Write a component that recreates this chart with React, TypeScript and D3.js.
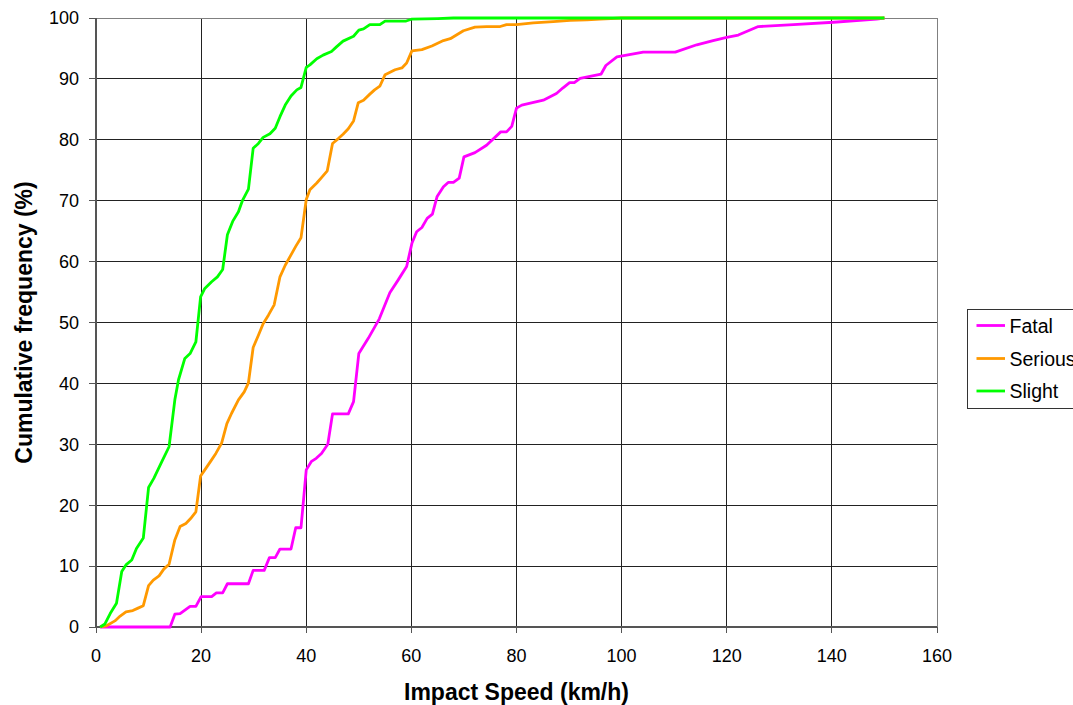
import React from "react";
import * as d3 from "d3";

type Pt = [number, number];

const xTicks = [0, 20, 40, 60, 80, 100, 120, 140, 160];
const yTicks = [0, 10, 20, 30, 40, 50, 60, 70, 80, 90, 100];

const fatal: Pt[] = [
  [0.8, 0], [14.1, 0], [15, 2.1], [16, 2.2], [17.9, 3.4], [19, 3.4], [20, 5], [22, 5], [22.9, 5.6], [24.1, 5.6],
  [25, 7.1], [29, 7.1], [29.9, 9.3], [32, 9.3], [33, 11.4], [34.1, 11.4], [35, 12.8], [37.1, 12.8], [38, 16.3],
  [39, 16.3], [40, 25.8], [41, 27.2], [41.9, 27.7], [42.9, 28.5], [44.1, 30], [45, 35], [48, 35], [49, 37],
  [50, 44.9], [51.8, 47.4], [53.9, 50.6], [55.9, 54.9], [57.5, 57], [59.1, 59.2], [60.1, 63], [61, 64.9],
  [62, 65.6], [63, 67.1], [64, 67.8], [64.9, 70.7], [66.1, 72.3], [67, 73], [68, 73], [69.1, 73.7], [70, 77.2],
  [72.1, 77.9], [74.3, 79.1], [77, 81.3], [78.1, 81.3], [79.1, 82.2], [80, 85.2], [81, 85.7], [85.1, 86.5],
  [87.6, 87.6], [88.8, 88.5], [90.1, 89.4], [91, 89.4], [92.1, 90.1], [96.1, 90.8], [97, 92.2], [99.1, 93.6],
  [104.1, 94.4], [110.2, 94.4], [114.3, 95.6], [117.4, 96.3], [120, 96.8], [122.2, 97.2], [126, 98.6],
  [132.7, 98.9], [140.3, 99.3], [148.5, 99.8], [150, 100],
];

const serious: Pt[] = [
  [0.8, 0], [2, 0.2], [3.6, 1], [4.6, 1.8], [5.7, 2.5], [7, 2.7], [8, 3.1], [9, 3.5], [10, 6.8], [10.9, 7.7],
  [12, 8.4], [12.9, 9.5], [13.9, 10.3], [15, 14.3], [16, 16.5], [17.1, 17], [18, 17.8], [19, 18.9], [19.9, 24.8],
  [20.7, 25.8], [21.8, 27.2], [22.8, 28.5], [23.9, 30.2], [24.9, 33.4], [25.8, 35.1], [27.1, 37.3], [28.2, 38.6],
  [29, 40.1], [29.9, 45.9], [30.9, 47.9], [31.8, 49.8], [32.8, 51.2], [33.9, 52.9], [35, 57.5], [36, 59.4],
  [37.1, 61.1], [38, 62.5], [39, 63.9], [40, 70.2], [40.7, 71.8], [42, 72.9], [42.9, 73.8], [44, 74.9],
  [45, 79.4], [46.1, 80.2], [47, 80.9], [48, 81.8], [49, 83.1], [49.9, 86.1], [50.9, 86.5], [52.1, 87.5],
  [53, 88.2], [54, 88.8], [55, 90.7], [56.9, 91.5], [58.2, 91.8], [59.1, 92.6], [60.1, 94.6], [62, 94.8],
  [63.9, 95.4], [66.1, 96.3], [67.4, 96.6], [69.9, 97.9], [72.1, 98.5], [74.3, 98.6], [76.9, 98.6],
  [78.1, 98.9], [80, 98.9], [83.2, 99.2], [87, 99.4], [90.2, 99.6], [93.4, 99.7], [95.9, 99.8], [100, 100],
  [150, 100],
];

const slight: Pt[] = [
  [0.8, 0], [1.7, 0.5], [2.7, 2.2], [3.9, 3.9], [4.9, 9.1], [5.7, 10.2], [6.8, 11], [7.7, 12.9], [9, 14.6],
  [10, 22.9], [11, 24.4], [12.5, 27.1], [13.9, 29.6], [15, 37.3], [15.7, 40.6], [16.9, 44.1], [17.9, 44.9],
  [19, 46.8], [19.9, 54.2], [20.7, 55.6], [22, 56.7], [23.1, 57.5], [24.1, 58.7], [25, 64.4], [26, 66.6],
  [27.1, 68.2], [27.9, 70.1], [29, 71.9], [29.9, 78.6], [30.9, 79.4], [31.8, 80.4], [33.1, 81], [34.1, 81.9],
  [35, 83.8], [36, 85.7], [37.1, 87.2], [38.2, 88.2], [39, 88.6], [40, 91.9], [40.7, 92.3], [42, 93.3],
  [43.2, 93.9], [44.8, 94.5], [45.8, 95.3], [47, 96.2], [49, 97], [50, 98], [50.9, 98.2], [52.1, 98.9],
  [54, 98.9], [55, 99.5], [59, 99.5], [60, 99.8], [65, 99.9], [68, 100], [150, 100],
];

const seriesNames = ["Fatal", "Serious", "Slight"];
const seriesColors = ["#FF00FF", "#FF9900", "#00FF00"];
const seriesData = [fatal, serious, slight];

const FONT = "'Liberation Sans', Arial, Helvetica, sans-serif";

export default function App() {
  const W = 1073;
  const H = 705;
  const left = 96;
  const right = 937;
  const top = 18;
  const bottom = 627;

  const x = d3.scaleLinear().domain([0, 160]).range([left, right]);
  const y = d3.scaleLinear().domain([0, 100]).range([bottom, top]);
  const line = d3
    .line<Pt>()
    .x((d) => x(d[0]))
    .y((d) => y(d[1]));

  const legendX = 967.5;
  const legendY = 309.5;
  const rowY = [325.5, 358.5, 391];

  return (
    <svg
      width={W}
      height={H}
      style={{ position: "absolute", left: 0, top: 0, background: "#fff" }}
      fontFamily={FONT}
    >
      <rect x={0} y={0} width={W} height={H} fill="#fff" />
      {/* gridlines */}
      <g shapeRendering="crispEdges">
        {yTicks.slice(1, -1).map((t) => (
          <line key={"gy" + t} x1={left} x2={right} y1={y(t)} y2={y(t)} stroke="#222" strokeWidth={1} />
        ))}
        {xTicks.slice(1, -1).map((t) => (
          <line key={"gx" + t} x1={x(t)} x2={x(t)} y1={top} y2={bottom} stroke="#222" strokeWidth={1} />
        ))}
        {/* plot border */}
        <line x1={left} x2={right} y1={top} y2={top} stroke="#808080" strokeWidth={1} />
        <line x1={right} x2={right} y1={top} y2={bottom} stroke="#808080" strokeWidth={1} />
        {/* axes */}
        <line x1={left} x2={left} y1={top} y2={bottom} stroke="#555" strokeWidth={1.5} />
        <line x1={left} x2={right} y1={bottom} y2={bottom} stroke="#555" strokeWidth={1.5} />
        {yTicks.map((t) => (
          <line key={"ty" + t} x1={left - 7} x2={left} y1={y(t)} y2={y(t)} stroke="#555" strokeWidth={1} />
        ))}
        {xTicks.map((t) => (
          <line key={"tx" + t} x1={x(t)} x2={x(t)} y1={bottom} y2={bottom + 6} stroke="#555" strokeWidth={1} />
        ))}
      </g>

      {/* tick labels */}
      {yTicks.map((t) => (
        <text key={"ly" + t} x={79} y={y(t) + 6.3} textAnchor="end" fontSize={18} fill="#000">
          {t}
        </text>
      ))}
      {xTicks.map((t) => (
        <text key={"lx" + t} x={x(t)} y={661.5} textAnchor="middle" fontSize={18} fill="#000">
          {t}
        </text>
      ))}

      {/* axis titles */}
      <text x={516.5} y={700} textAnchor="middle" fontSize={23} fontWeight="bold" fill="#000">
        Impact Speed (km/h)
      </text>
      <text
        transform={`translate(32, 322.5) rotate(-90)`}
        textAnchor="middle"
        fontSize={23}
        fontWeight="bold"
        fill="#000"
      >
        Cumulative frequency (%)
      </text>

      {/* series */}
      {seriesData.map((d, i) => (
        <path
          key={seriesNames[i]}
          d={line(d) || ""}
          fill="none"
          stroke={seriesColors[i]}
          strokeWidth={2.8}
          strokeLinejoin="round"
        />
      ))}

      {/* legend */}
      <rect x={legendX} y={legendY} width={130} height={99} fill="#fff" stroke="#333" strokeWidth={1} />
      {seriesNames.map((n, i) => (
        <g key={"lg" + n}>
          <line x1={976.5} x2={1005} y1={rowY[i]} y2={rowY[i]} stroke={seriesColors[i]} strokeWidth={2.8} />
          <text x={1009.5} y={rowY[i] + 7} fontSize={19.5} fill="#000">
            {n}
          </text>
        </g>
      ))}
    </svg>
  );
}
